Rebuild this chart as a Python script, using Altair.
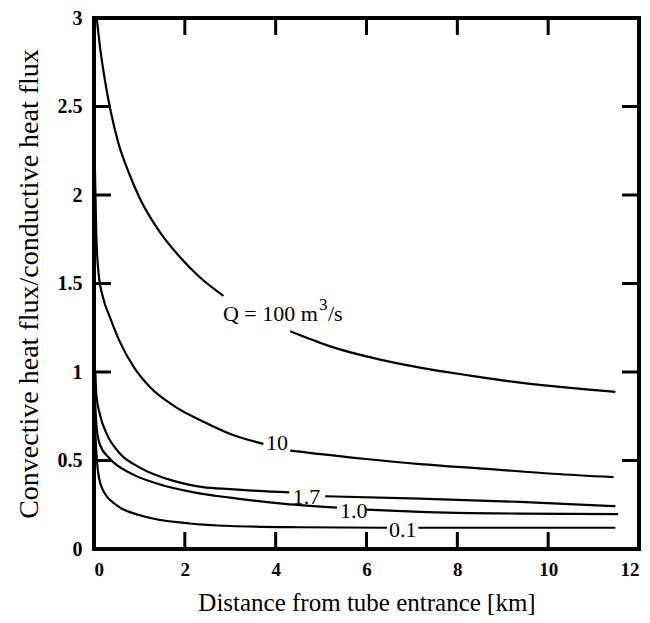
import altair as alt
import pandas as pd

# ---- data ----
# Q = 100 m3/s (split around its label)
q100_xa = [0.06, 0.13, 0.24, 0.37, 0.54, 0.76, 1.01, 1.45, 1.89, 2.33, 2.85]
q100_ya = [3.0, 2.84, 2.65, 2.47, 2.29, 2.13, 1.98, 1.79, 1.65, 1.535, 1.43]
q100_xb = [4.32, 5.2, 6.3, 7.18, 8.28, 9.38, 10.48, 11.48]
q100_yb = [1.23, 1.145, 1.07, 1.025, 0.98, 0.94, 0.91, 0.888]

# Q = 10
q10_xa = [0.02, 0.05, 0.1, 0.2, 0.35, 0.57, 0.87, 1.23, 1.75, 2.4, 3.0, 3.73]
q10_ya = [2.15, 1.78, 1.56, 1.42, 1.31, 1.17, 1.03, 0.915, 0.81, 0.72, 0.65, 0.594]
q10_xb = [4.32, 5.93, 7.18, 8.65, 10.1, 11.44]
q10_yb = [0.556, 0.51, 0.48, 0.453, 0.425, 0.406]

# Q = 1.7
q17_xa = [0.03, 0.05, 0.13, 0.28, 0.57, 1.01, 1.75, 2.4, 3.0, 3.6, 4.3]
q17_ya = [1.0, 0.875, 0.76, 0.65, 0.54, 0.46, 0.385, 0.35, 0.338, 0.328, 0.32]
q17_xb = [5.09, 7.18, 9.38, 11.48]
q17_yb = [0.298, 0.285, 0.266, 0.242]

# Q = 1.0
q1_xa = [0.02, 0.06, 0.13, 0.35, 0.79, 1.38, 2.2, 3.0, 4.2, 5.35]
q1_ya = [0.85, 0.68, 0.59, 0.51, 0.43, 0.37, 0.32, 0.29, 0.255, 0.234]
q1_xb = [6.0, 7.18, 9.38, 11.54]
q1_yb = [0.223, 0.21, 0.2, 0.197]

# Q = 0.1
q01_xa = [0.02, 0.045, 0.095, 0.2, 0.5, 1.01, 2.11, 3.0, 4.5, 6.45]
q01_ya = [0.7, 0.575, 0.425, 0.331, 0.247, 0.191, 0.144, 0.13, 0.123, 0.12]
q01_xb = [7.14, 9.3, 11.48]
q01_yb = [0.12, 0.12, 0.12]

# curve labels
label_text = ["10", "1.7", "1.0", "0.1"]
label_x = [4.03, 4.68, 5.72, 6.8]
label_y = [0.598, 0.295, 0.216, 0.11]
# "Q = 100 m³/s" label, anchored at the end of the "m"
q_label_main = "Q = 100 m"
q_label_sup = "3"
q_label_tail = "/s"
q_label_x = [4.93]
q_label_y = [1.326]

x_tick_labels = [0, 2, 4, 6, 8, 10, 12]
y_tick_labels = [0, 0.5, 1, 1.5, 2, 2.5, 3]
x_inner_ticks = [2, 4, 6, 8, 10]
y_inner_ticks = [0.5, 1, 1.5, 2, 2.5]

# ---- build tables ----
rows = []
segments = [
    ("100", "a", q100_xa, q100_ya), ("100", "b", q100_xb, q100_yb),
    ("10", "a", q10_xa, q10_ya), ("10", "b", q10_xb, q10_yb),
    ("1.7", "a", q17_xa, q17_ya), ("1.7", "b", q17_xb, q17_yb),
    ("1.0", "a", q1_xa, q1_ya), ("1.0", "b", q1_xb, q1_yb),
    ("0.1", "a", q01_xa, q01_ya), ("0.1", "b", q01_xb, q01_yb),
]
for q, s, xs_, ys_ in segments:
    for xv, yv in zip(xs_, ys_):
        rows.append({"q": q, "seg": q + "-" + s, "x": xv, "y": yv})
df = pd.DataFrame(rows)
labels_df = pd.DataFrame({"t": label_text, "x": label_x, "y": label_y})
qlab_df = pd.DataFrame({"x": q_label_x, "y": q_label_y})
xt_df = pd.DataFrame({"x": x_inner_ticks})
yt_df = pd.DataFrame({"y": y_inner_ticks})

W, H = 545, 531
FONT = "Liberation Serif"
xs = alt.Scale(domain=[0, 12], nice=False, zero=False)
ys = alt.Scale(domain=[0, 3], nice=False, zero=False)

lines = alt.Chart(df).mark_line(color="black", strokeWidth=2.2, interpolate="monotone").encode(
    x=alt.X("x:Q", scale=xs, title="Distance from tube entrance [km]", axis=alt.Axis(
        values=x_tick_labels, labelPadding=11, titlePadding=11)),
    y=alt.Y("y:Q", scale=ys, title="Convective heat flux/conductive heat flux", axis=alt.Axis(
        values=y_tick_labels, format="~g", labelPadding=12, titlePadding=14)),
    detail="seg:N",
)

txt = dict(font=FONT, color="black", baseline="middle")
texts = alt.Chart(labels_df).mark_text(fontSize=22, align="center", **txt).encode(
    x=alt.X("x:Q", scale=xs), y=alt.Y("y:Q", scale=ys), text="t:N")
q_main = alt.Chart(qlab_df).mark_text(fontSize=22, align="right", text=q_label_main, **txt).encode(
    x=alt.X("x:Q", scale=xs), y=alt.Y("y:Q", scale=ys))
q_sup = alt.Chart(qlab_df).mark_text(fontSize=17, align="left", dx=1, dy=-9, text=q_label_sup, **txt).encode(
    x=alt.X("x:Q", scale=xs), y=alt.Y("y:Q", scale=ys))
q_tail = alt.Chart(qlab_df).mark_text(fontSize=22, align="left", dx=10, text=q_label_tail, **txt).encode(
    x=alt.X("x:Q", scale=xs), y=alt.Y("y:Q", scale=ys))

tick_style = dict(color="black", strokeWidth=3)
bottom_ticks = alt.Chart(xt_df).mark_rule(**tick_style).encode(
    x=alt.X("x:Q", scale=xs), y=alt.value(H), y2=alt.value(H - 17))
top_ticks = alt.Chart(xt_df).mark_rule(**tick_style).encode(
    x=alt.X("x:Q", scale=xs), y=alt.value(0), y2=alt.value(17))
left_ticks = alt.Chart(yt_df).mark_rule(**tick_style).encode(
    y=alt.Y("y:Q", scale=ys), x=alt.value(0), x2=alt.value(17))
right_ticks = alt.Chart(yt_df).mark_rule(**tick_style).encode(
    y=alt.Y("y:Q", scale=ys), x=alt.value(W), x2=alt.value(W - 17))

chart = alt.layer(
    lines, texts, q_main, q_sup, q_tail, bottom_ticks, top_ticks, left_ticks, right_ticks
).properties(
    width=W, height=H,
    autosize=alt.AutoSizeParams(type="none"),
    padding={"left": 86, "top": 10, "right": 3, "bottom": 66},
).configure_view(
    stroke="black", strokeWidth=4
).configure_axis(
    domain=False, ticks=False, grid=False,
    labelFont=FONT, labelFontWeight="bold", labelColor="black",
    titleFont=FONT, titleFontWeight="normal", titleColor="black",
).configure_axisX(
    labelFontSize=19, titleFontSize=25,
).configure_axisY(
    labelFontSize=20, titleFontSize=28,
)

chart.save("out.html", embed_options={"renderer": "svg", "actions": False})
